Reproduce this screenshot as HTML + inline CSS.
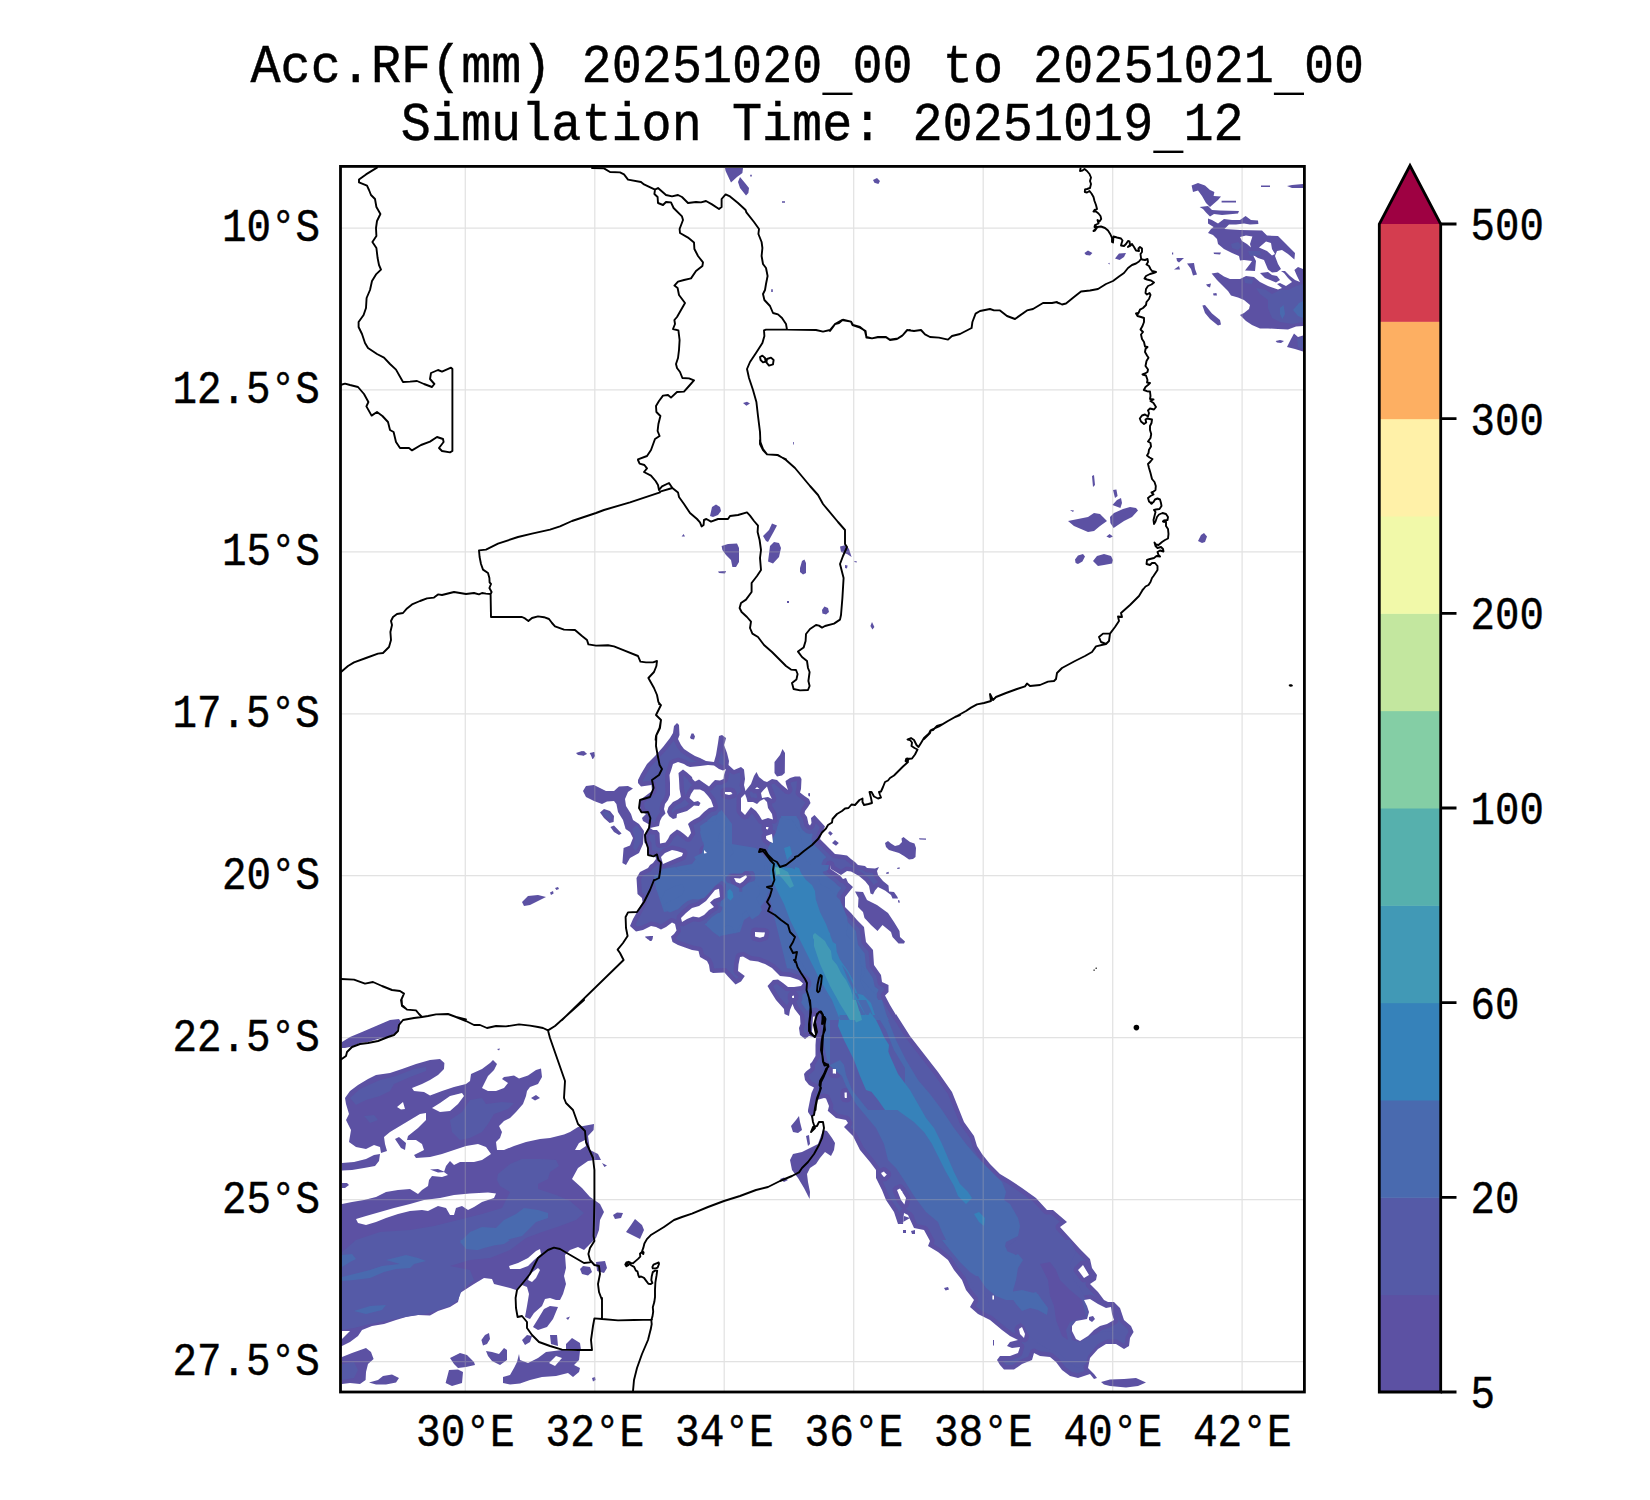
<!DOCTYPE html><html><head><meta charset="utf-8"><style>html,body{margin:0;padding:0;background:#fff}body{width:1650px;height:1500px;position:relative;overflow:hidden;font-family:"Liberation Mono",monospace}</style></head><body><svg width="1650" height="1500" viewBox="0 0 1650 1500" style="position:absolute;left:0;top:0">
<defs><clipPath id="ax"><rect x="340.5" y="166.4" width="963.9000000000001" height="1225.6"/></clipPath></defs>
<g clip-path="url(#ax)">
<path fill="#5c51a3" d="M630 926 L633 919 L637 912 L642.5 902 L642 898 L637.5 894 L636.5 878 L640 872 L648 868 L650 865 L650 865 L653 863 L656 859 L655 855 L650 855 L647.5 853 L647 844 L644.5 843 L644 835 L649 828 L650 825 L643 821 L642 818 L646 814 L641 811.5 L639.5 805 L640 800 L648 794 L652 791 L651.5 785 L641 786.5 L638 783 L638 780 L641 774 L647 764 L655 756 L663 747 L670 738 L673 733 L674 726 L677 723 L679 725 L679.5 735 L678 739 L681 745 L684 749 L690 753 L695 756 L700 758 L706 761 L714 762 L716 755 L718 743 L719 736 L722 735 L726 738 L725 742 L724 745 L727 753 L729 761 L728.5 765 L734 770 L741 767 L744 769.5 L745 779 L744 785 L745.5 791 L747 789 L751 784 L754 776 L756.5 772 L759 777 L764 781 L767 782 L772 779 L777 780 L782 785 L788 790 L786 784 L785.5 781 L790 778 L795 776.5 L795 776.5 L800 776.5 L801.5 779 L801 789 L800 792.5 L804.5 796 L809 799 L810.5 803 L808 807 L805 811 L804.5 813.5 L807 817 L808.5 824 L810 825.5 L811.5 823 L811 818 L814.5 815 L820 821 L825 826.5 L822 833 L820 839 L825 844 L830 849 L835 854 L840 854.5 L847 855.5 L851 859 L855 862 L858 865 L858 865 L865 866 L867 868 L875 868.5 L879 867 L877 871 L878 875 L883 881 L888.5 885.5 L889 891.5 L894 892 L897.5 897 L898 898.5 L892.5 898.5 L891 895 L885 890.5 L878 887 L875 890.5 L873 894.5 L870.5 893.5 L869 886 L865 881 L859 876 L851 871.5 L847 871 L841 875 L831 869 L830 865 L830.5 869 L840 875.5 L843 879 L846 878 L848 882.5 L853 887 L845 897 L845 907 L851 913 L857 920 L864 927 L865 935 L866 942 L873 950 L874 965 L881 975 L882 982 L888.5 985 L888.5 992 L885 995.5 L890 1005 L896 1015 L896 1014 L910 1036 L924 1054 L938 1072 L952 1092 L960 1112 L964 1122 L974 1136 L977 1146 L982 1154 L990 1164 L1000 1174 L1010 1180 L1022 1188 L1036 1198 L1047 1210 L1053 1210 L1060 1216 L1067 1222 L1060 1227 L1070 1238 L1080 1249 L1090 1259 L1092 1268 L1097 1275 L1096 1280 L1090 1284 L1098 1292 L1104 1300 L1108 1302 L1114 1302 L1120 1308 L1124 1320 L1131 1326 L1133.6 1332 L1130 1338 L1129 1346 L1124 1349 L1116 1344 L1106 1344 L1098 1349 L1090 1358 L1088 1368 L1094 1374 L1097 1378 L1094 1379 L1090 1374 L1084 1376 L1078 1378 L1070 1376 L1062 1370 L1056 1362 L1050 1357 L1040 1356 L1034 1353 L1032 1360 L1022 1364 L1014 1369.6 L1004 1369.6 L1000 1365 L997 1360 L1000 1356 L1010 1356 L1018 1353 L1020 1347 L1012 1348 L1007 1346 L1010 1342 L1018 1340 L1010 1336 L1002 1330 L990 1320 L978 1314 L970 1307 L974 1300 L966 1290 L962 1280 L954 1270 L948 1260 L938 1252 L928 1246 L930 1241 L924 1230 L914 1228 L908 1215 L904 1213 L903 1222 L898 1225 L910 1218 L904 1216 L903 1224 L898 1224 L894 1212 L886 1200 L882 1190 L876 1178 L876 1170 L870 1162 L860 1150 L853 1136 L844 1127 L848 1123 L846 1120 L836 1118 L828 1111 L824 1098 L817 1100 L815 1114 L812 1118 L808 1112 L808 1110 L809 1105 L810 1100 L811.5 1093 L814 1087.5 L809 1085 L805 1080 L804 1074 L806 1071.5 L810.5 1068 L810 1064 L812 1062 L815.5 1056 L815.5 1045 L816 1038 L813 1037 L809 1036 L805 1039 L800 1035 L799 1028 L800.5 1024 L800 1016 L794.5 1009 L792.5 1004 L790 1010 L789 1016 L784.5 1014 L784 1009 L776 1000 L771 992 L767.5 986 L773 980 L778 979.5 L783 983 L788 987 L794 987 L801 986 L803 983.5 L799 980 L790 977 L780 976 L772 968 L765 964 L758 961.5 L750 960.5 L743 956.5 L740 957 L738.5 964.5 L738 971 L744.8 976 L741 981.5 L735.5 984.5 L728 976.5 L724.5 972.5 L713 973 L710 971.5 L709 965 L707 961 L700 957 L698.5 951 L692 950 L685 947.5 L678 945 L672.5 942 L671 936.5 L674 934 L676.5 930.5 L675 924 L672 922.5 L666 927 L661 929.5 L656 927 L651 926 L643 930 L636 931.5 L630 926Z M345 1098 L350 1091 L358 1085 L368 1079 L376 1075 L390 1073 L402 1069 L416 1064 L430 1060 L440 1059 L444.4 1063 L444 1069 L438 1075 L430 1080 L422 1084 L412 1088 L414 1091 L424 1092 L430 1095.6 L442 1091 L454 1087 L466 1084 L470 1081 L471 1074 L482 1069 L490 1063 L493 1060 L497 1064 L494 1070 L488 1076 L484 1084 L482 1088 L488 1091 L496 1091 L504 1088 L508 1083 L502 1079 L504 1077 L514 1075.6 L519 1078.4 L528 1075.6 L536 1070 L541 1068.4 L542 1077 L538 1084 L530 1087 L527 1091 L526 1096 L523 1104 L516 1112 L510 1118 L504 1121 L499 1126 L502 1132 L500 1138 L496 1142 L497 1150 L504 1150 L514 1146 L526 1142 L540 1139 L550 1138 L564 1134.4 L570 1132 L578 1127 L594 1124 L593.6 1130 L588 1136 L590 1150 L598 1154 L601 1160 L594 1160 L588 1161 L578 1168 L572 1179 L582 1188 L590 1197 L594.4 1200 L600 1204 L604 1212 L600 1220 L599 1230 L596 1238 L590 1244 L584 1250 L578 1247 L570 1250 L565 1255 L566 1268 L564 1276 L566 1284 L563 1294 L560 1300 L556 1300 L550 1298 L545 1299 L542 1306 L534 1313 L530 1319 L525 1317 L527 1306 L529 1294 L527 1287 L522 1285 L516 1290 L510 1288 L502 1286 L494 1284 L492 1279 L484 1278 L474 1284 L460 1293 L458 1302 L450 1307 L438 1311 L430 1315.6 L418 1315 L406 1317 L396 1320 L384 1324 L372 1326 L362 1330 L358 1336 L350 1342 L342 1346 L341 1346 L341 1204 L342 1204 L352 1202 L364 1200 L376 1197 L386 1192 L398 1190 L410 1189 L418 1194 L422 1190 L428 1186 L429 1180 L432 1176 L442 1177 L448 1175 L444 1172 L446 1166 L450 1161 L454 1165 L460 1162 L474 1162 L482 1160 L491 1154 L486 1147 L478 1144 L466 1146 L454 1150 L442 1154 L430 1157 L416 1158 L414 1155 L424 1150 L422 1144 L416 1140 L407 1140 L408 1136 L418 1128 L426 1120 L426 1113 L420 1114 L410 1120 L400 1126 L390 1132 L384 1137 L385 1144 L387 1151 L381 1153 L380 1147 L374 1145 L366 1149 L356 1147 L349 1142 L351 1130 L346 1120 L349 1114 L346 1104Z M725 168 L743 168 L742.4 173 L737 177 L731 182.4 L728.4 177 L725.6 171Z M740 177 L745 183 L749 188 L748.4 193 L746 195.6 L740 188 L738 182Z M750.2 174.8 L751.8 174.8 L751.8 176.4 L750.2 176.4Z M782 201.2 L785 201.2 L785 202.8 L782 202.8Z M873 180 L877 178 L880 181 L878.4 184 L874.4 182.8Z M771.2 289.2 L772.8 289.2 L772.8 292 L771.2 292Z M743 403 L747 401.8 L750 403.6 L746.4 405.8Z M793.2 442 L794 442 L794 444.6 L793.2 444.6Z M1084.4 253 L1088 250.4 L1092.4 253 L1090 255.6 L1086 255Z M1115 258.4 L1119 253.4 L1126 253 L1124 257 L1119.6 260Z M1108 263.6 L1109.6 262.8 L1109.6 264.4Z M1191.6 185.6 L1198 183 L1205 185.6 L1210 190 L1214.4 192 L1213.6 196 L1221 196.4 L1218 200 L1210 207 L1206 203 L1202 196 L1198 190.4 L1193 192Z M1221.6 200.8 L1236 200.8 L1236 202.6 L1221.6 202.6Z M1199.6 207 L1208 206 L1212 210 L1220 210.4 L1239 211 L1238 213.6 L1222 215 L1214 214 L1210 216.4 L1206 212.4 L1203 209Z M1208 218.4 L1212 220 L1218 223.6 L1224 219 L1232 220 L1240 220 L1245.6 216 L1251 220 L1258 220.4 L1258.4 224 L1250 224.4 L1244 223.6 L1236 224.4 L1229 224.4 L1224.4 229 L1240 230 L1262 230.4 L1267 235.6 L1278 236 L1286 244 L1295 253 L1294.4 259.6 L1288 254 L1282 250 L1277 251 L1275 256 L1278 264 L1281 269 L1277 272 L1272 272.4 L1268 269.6 L1264 260 L1258 258 L1253 255 L1256 261 L1255 271 L1245 270.4 L1250 264 L1252 261 L1244 260 L1240 260.4 L1239 256 L1232 253 L1224 249 L1218 244 L1217 239 L1213 235 L1208 233 L1211 229 L1213.6 227 L1208 223.6Z M1211.6 273.6 L1218 272.4 L1224 276.4 L1230 279 L1240 279 L1246 276 L1254 277 L1260 282 L1268 286 L1278 289.6 L1282 288 L1277 284 L1280 283 L1286 286 L1292 282 L1288 278 L1284 273 L1281 271 L1285 271 L1290 276 L1295 280 L1300 282 L1297 276 L1294.4 270 L1298 267 L1303 269 L1303 326 L1296 326.4 L1288 329.6 L1278 329 L1268 328.4 L1260 328.4 L1252 325 L1246 321 L1240 315 L1244 313 L1249 309 L1250 305 L1244 300 L1238 297.6 L1231 295.6 L1228 291 L1222 285 L1217 280Z M1260 273 L1268 272 L1272 275 L1277 276 L1280 280 L1276 282.4 L1270 280 L1265 278Z M1176.4 258 L1184 258 L1179 262.4 L1177 261Z M1174 269.6 L1179 266 L1180 269.6Z M1187 263.4 L1194 263 L1195 269 L1197 274.4 L1193 275.6 L1191 269Z M1172 252.4 L1173.2 252.4 L1173.2 254.4 L1172 254.4Z M1213.6 252.4 L1221 252.4 L1220 254.4 L1214 254Z M1206 284.4 L1211 283.6 L1210 287.6 L1207.6 286.4Z M1213 293.6 L1216.4 293 L1217 295.6 L1213.6 295.6Z M1202.4 305.6 L1205 305 L1212 313.6 L1220 320 L1221 324.4 L1218 325.6 L1210 319 L1205 313Z M1275.6 341 L1280 340 L1284 341 L1281 343 L1277 342.4Z M1287 347 L1291 339 L1294 333.6 L1298 337 L1303 335.6 L1303 351.6 L1295 349Z M1261 185.6 L1270 185.6 L1270 187 L1261 187Z M1287 186 L1292 185 L1303 184 L1303 188 L1292 188Z M710 516 L712 507 L716 504.4 L720 507 L721 511 L718 515 L713 517Z M681.6 536.4 L683.6 534 L685 536.4Z M721.6 546 L728 544 L737 543.6 L739 548 L739 562 L736 567 L732.4 567 L731 560 L726 555 L722.4 550Z M718 571.6 L726 571 L725 573.6 L719 573Z M763 536 L769 530 L772 523.6 L777 525.6 L773 533 L768 542 L766 541Z M770 546 L774 542 L779 543 L781 548 L779 557 L773 563.6 L768 561.6 L769 554Z M800 568 L802 561 L804.4 559.6 L806 563 L806 573 L803 574.4 L800 572Z M840 546.4 L846 545 L849 549 L851.6 557 L847 554 L841 552Z M845 565 L847.6 565.6 L847 568.4 L845 568Z M854.4 561 L857 561.6 L856.6 562.6 L854.4 562Z M787 601 L789 601 L789 603 L787 603Z M822 610 L824.4 606.4 L828 608 L829 612 L826 614.4 L822.4 613.6Z M870.4 626 L872 622 L874.4 627 L872.4 629.6Z M1092 476 L1094 475 L1095 485 L1093 487Z M1113 490 L1116.4 489.6 L1117.6 496 L1115 498Z M1112.4 505 L1117 500 L1121 498 L1122 503 L1120.4 508Z M1070 510 L1074 510.4 L1073 512Z M1068 521 L1078 519 L1088 517 L1094 513 L1100 514 L1107 521 L1100 526 L1094 531 L1088 532 L1081 529 L1074 526Z M1110 517 L1114 513 L1123 509 L1130 507 L1136 508 L1138 510.4 L1132 517 L1124 521 L1118 525 L1113.6 528 L1110.4 523Z M1106.4 536.4 L1109.6 534 L1113 536.4 L1109.6 538Z M1075 559.6 L1078 555.6 L1083 554 L1085 556.4 L1082.4 561.6 L1078 564 L1075.6 563Z M1093 561 L1097 556 L1104 554 L1111 556 L1113 560 L1112 563.6 L1104 565 L1098 566Z M1198 541 L1201 535 L1204 533 L1207 536.4 L1205 542 L1202 543Z M576 753 L582 751 L587 753.6 L582.4 755.6 L578 755Z M589.6 753 L594.4 752 L595 756 L593 759Z M583 791 L586 786 L594 785 L600 788 L606 791 L614 791 L619 786.4 L628 786 L633 788.4 L628 792 L625 799 L626 806 L631 814 L633 820 L639 824 L644 831 L643 844 L639 853 L630 858 L626 865 L622.4 863 L623.6 848 L630 845.6 L633 838 L630 832 L625.6 829 L623 820 L618 812 L616.4 804 L614 801 L607 801.6 L602 804 L594 801 L586 797Z M600 812.4 L604 809 L610 811 L614 816 L613.6 822 L609.6 823 L604 818Z M610.4 827 L614 825.6 L621.6 833.6 L619 835 L614 832Z M522 902 L528 896 L538 895 L546 897 L538 901 L530 905 L524 906Z M550 892.4 L553 891 L553.6 893.6 L551 895Z M555 888 L558 887 L559 889 L556.4 890Z M645 936.4 L653 936 L651.6 941 L648 939.6Z M580 752 L584 751 L587 754 L583 756Z M590 753 L594 752 L594.4 757 L592.4 759Z M645 937 L653 936 L651.6 941 L648 939.6Z M678.5 818 L682 815.5 L684.5 818 L682 819.5Z M774.5 762 L780 755 L782.5 749 L785 753 L784.8 773 L782 775.5 L777 776.5 L774.5 773Z M690 737.5 L691.5 733.5 L693.5 733.5 L695 736.5 L694 739.5 L691 739Z M808 793.5 L810 793 L810 796.5 L808.5 796Z M828 833 L830 831 L832.8 833.5 L830.5 835.8Z M832 843 L835 840 L838.8 843 L836 845.8Z M885 843 L888 841 L891 843.5 L895 846 L899 845 L902 842 L901.5 838.5 L903.5 837 L906 839 L910 842 L914.5 843.5 L916 848 L915.5 857 L913 859 L909 859.5 L904 856 L899 853 L894 851.5 L889 850 L886 847Z M919 838.2 L926 838.5 L926 839.8 L919.5 839.5Z M645 936.5 L653 936.2 L652.5 939.5 L650 941Z M855 891.5 L863 892 L867 900 L877 905 L888 913 L894 922 L899.5 931 L900 937 L905 941.5 L904 943.5 L898.5 943.5 L892.5 937 L891 932 L882.5 925 L877.5 931 L871 925 L864.5 918 L863 912 L858 907 L858.5 898Z M897 868 L899.5 867.2 L899.8 868.8 L897.5 869Z M886 872.8 L888.5 871.8 L889 873.5 L886.5 874Z M898 900 L899.5 900.5 L899.8 902.8 L898.2 902.5Z M342 1042 L350 1037 L362 1032 L376 1026 L390 1020 L399 1019 L401 1022 L398 1028 L396 1033 L388 1037 L378 1039 L368 1042 L360 1043 L352 1046.4 L345 1048 L342 1048Z M531 1098 L536 1095 L540 1098 L535 1100.6Z M342 1163 L354 1162 L366 1159 L374 1155 L380 1154 L379 1161 L375 1166 L364 1168 L352 1170 L342 1170.4Z M342 1183 L347 1183 L349 1185 L345 1188 L342 1188Z M613 1215 L617 1212.4 L623 1213 L621 1218 L615 1219Z M626 1232 L631 1225 L635 1219 L642 1225 L644 1230 L640 1239 L632 1235Z M580 1269 L583 1266 L590 1267 L592 1272 L588 1275.6 L582 1274Z M596 1262 L605 1261 L607 1268 L604 1273 L597 1271Z M497 1049 L500 1048.6 L499 1050.6Z M602 1163 L607 1165.6 L604.4 1167Z M791 1126 L796 1120 L799 1116 L800 1122 L802 1130 L798 1133 L793 1132Z M806 1136 L809 1135 L810 1144 L808 1146Z M790 1160 L793 1154 L802 1152 L810 1148 L818 1144 L823 1130 L827 1131 L832 1138 L835 1143 L834 1150 L831 1156 L825 1152 L820 1158 L816 1164 L810 1168 L807 1174 L808 1182 L810 1192 L809.6 1199 L804 1188 L798 1178 L792 1170Z M780 1179 L784 1177.6 L788 1180 L784 1182Z M903 1230 L906 1230 L906 1233 L903 1233Z M944 1288 L948 1287 L949 1289.6 L945.6 1290.4Z M911 1231 L915 1230 L915 1234 L912 1234Z M1101 1382 L1110 1379.6 L1124 1379 L1136 1378 L1146 1382.4 L1138 1386 L1126 1387.6 L1110 1386 L1104 1384.4Z M993 1340 L994 1340 L994 1345.6 L993 1345.6Z M533 1327 L538 1319 L544 1309 L550 1306 L558 1307 L553 1319 L547 1327 L538 1330Z M566 1318 L570 1316.6 L568 1320Z M522 1340 L527 1335 L532 1336 L530 1342 L525 1345Z M550 1335 L557 1335 L558 1346 L551 1344Z M566 1344 L572 1338 L580 1343 L581 1350 L566 1349.6Z M481.4 1340 L485 1335 L489 1333 L490 1339 L487 1344 L483 1345.6Z M486 1351 L492 1352 L499 1354 L504 1348 L507 1350 L507 1360 L500 1365 L492 1361 L488 1356Z M503 1377 L510 1375 L514 1368 L517 1362 L519 1354 L520 1360 L528 1363 L538 1358 L546 1352 L554 1351 L562 1350 L580 1351 L579 1360 L574 1365 L580 1368 L579 1372 L573 1377 L568 1373 L556 1376 L542 1377 L530 1380 L520 1383.6 L510 1384.4 L503 1383Z M450 1358 L460 1353 L467 1355 L474 1362 L475 1365 L466 1367 L458 1368 L454 1364Z M449 1370 L458 1369.6 L463 1372 L462 1383 L452 1386 L445.6 1383Z M369 1382.4 L378 1380 L383 1376 L392 1374.4 L399 1378 L396 1382.4 L386 1384.4 L376 1384.4Z M342 1357 L352 1353 L366 1348 L371 1352 L373.6 1359 L368 1364 L366 1372 L365.6 1380 L360 1384 L350 1383 L342 1384Z M592 1378 L595 1377 L595.6 1380 L593 1381.6Z"/>
<path fill="#555aa7" fill-rule="evenodd" d="M647.8 818.6 L653.8 822.6 L655.2 822.2 L655.8 819.4 L658 815 L660.4 812.3 L659.5 809 L660.7 802.7 L664 797.8 L665.5 794.1 L665 774.4 L669.5 761.1 L671.3 759.8 L678.1 757.5 L685.8 759.9 L690.5 762.4 L697.3 761.8 L692.7 759.9 L681.1 752.4 L677.2 747.4 L673.8 740.5 L666.4 750 L650.6 766.8 L642.5 781.1 L642.8 781.7 L652.6 780.6 L654.8 781.9 L655.9 784.2 L656.5 791.1 L655.9 793.2 L644.3 802.4 L644.1 804.7 L644.9 808.4 L648.8 810.5 L650.4 813.1 L650 816.1 L647.8 818.6Z M718.4 763.1 L722.7 765.6 L724 765 L724.4 761.3 L721.3 750.6 L718.4 763.1Z M729.7 772.2 L727.8 780.4 L726.7 782.2 L720.9 784.9 L716.7 784.7 L712.1 789.7 L709.5 791 L715.1 798.1 L717.9 805.9 L717.7 808.6 L715.7 810.9 L711 812.2 L701.4 820.8 L693.3 825.2 L695.4 833.8 L690.8 841 L688.4 842 L686.2 841.6 L677.5 834.8 L673.6 837.9 L671.9 841.3 L668.3 846.1 L666.3 846.9 L659.5 848 L657.4 847.2 L655.8 845 L654.9 834.5 L652.1 834.4 L650.5 833.7 L648.6 836.3 L648.8 839.9 L650.4 841 L651.4 842.9 L651.9 850.5 L656.3 850.7 L658.9 852.7 L662.8 849.1 L670.7 845.7 L672.4 845.5 L678.4 846.7 L685.2 849.1 L687 851 L687.5 853.6 L685.9 858.2 L684.1 860 L663.5 868.5 L661.3 868.2 L659.8 867.2 L658.2 863.6 L655.9 866.4 L653.2 868.2 L650.8 871.5 L643.2 875.4 L641.1 879.1 L641.9 891.9 L646.1 896.1 L646.9 902.8 L635.4 924.8 L637.3 926.6 L641.5 925.7 L651 921.5 L657.3 922.7 L661 924.5 L670.9 918.1 L673.2 918.2 L676.8 919.9 L676.5 917.7 L677.2 915.5 L682.8 909.8 L689.5 904.3 L697 901.9 L702.9 897.7 L712.1 886.5 L718.6 884.3 L720.7 884.6 L722.1 885.6 L723.4 887.8 L724.4 897.8 L722.6 900.7 L716.4 902.9 L718.5 906.4 L718.4 908.1 L717.3 910 L711.8 913.6 L706.4 918.8 L700.6 921.7 L698.7 922 L693.5 921.2 L683.5 926.2 L680.1 926.1 L680.9 931.6 L676.1 938.1 L676.3 939 L679.8 940.9 L693.1 945.6 L700.8 947.1 L702.6 949.1 L703.9 954 L710.8 958.6 L713.2 963.4 L714.1 968.4 L724.3 968 L726.5 968.5 L736.4 978.9 L738.6 977 L734.7 974 L733.5 971.1 L734.1 963.6 L735.6 956.1 L736.3 954.5 L738 953 L743.1 952 L744.8 952.4 L751.5 956.1 L759 957.1 L766.9 959.9 L774.9 964.5 L782 971.7 L790.9 972.6 L800.4 975.7 L806.3 980.4 L807.3 982.3 L807.4 984.4 L804.2 989.1 L802.1 990.4 L795.6 991.3 L797.7 992.9 L798.5 995 L798.3 999.3 L796.4 1001.8 L798.4 1006.7 L804.3 1014.8 L805 1024.2 L803.6 1028.5 L804.2 1032.6 L805.1 1033.3 L807.5 1031.8 L808.5 1016.7 L809.5 1014.2 L812.4 1012 L814.9 1011.5 L817.3 1012.5 L818.9 1015 L821.5 1030.9 L819.9 1035.8 L820.5 1037.9 L819.9 1056.9 L814.7 1065.6 L815 1068.3 L814.4 1070.3 L808.8 1075.2 L809.2 1078.1 L811.9 1081.4 L816.7 1083.9 L818.2 1086 L818.4 1088.5 L815.5 1095.8 L823.7 1093.5 L827.5 1094.3 L829.3 1095.4 L833.3 1104.8 L832.8 1109.2 L838.1 1113.8 L847.3 1115.7 L849.5 1117.1 L852.5 1122.6 L852 1125.1 L850.4 1127 L856.8 1133.6 L863.8 1147.5 L873.6 1159.3 L880.2 1168.4 L883.4 1167.1 L885.6 1167.4 L890.4 1171.6 L891.3 1174.6 L890.4 1177.1 L886.7 1180.9 L884.6 1181.5 L882.6 1181.2 L890 1197.9 L898 1209.8 L899.4 1213.9 L900.3 1210.5 L902.9 1208.6 L901.1 1207.5 L897 1202 L892.7 1191.2 L892.6 1189 L894.3 1186.4 L899.8 1184.1 L902.6 1184.9 L905.5 1188.2 L910 1196 L910.5 1198.2 L908.5 1206.3 L907.1 1208 L905.5 1208.8 L911.6 1212.4 L914 1216 L914.5 1218.3 L917.1 1224 L925.3 1225.7 L927.5 1227.1 L934.3 1239.7 L934.4 1241.8 L933.6 1244.1 L940.8 1248.5 L951.6 1257.4 L957.7 1267.4 L965.8 1277.5 L969.9 1287.7 L978 1297.9 L978.3 1301.4 L975.7 1306 L980.5 1310.2 L992.5 1316.2 L1004.8 1326.5 L1012.4 1332.2 L1015.3 1333.6 L1014.5 1328.6 L1016.1 1325.5 L1021.5 1322.5 L1023.7 1322.8 L1025.7 1324.5 L1029.3 1332.6 L1029.4 1334.7 L1028.2 1339.5 L1027.1 1341.3 L1024.8 1342.4 L1022 1342 L1021.5 1342.8 L1023.6 1344.3 L1024.5 1346.7 L1021.9 1355.2 L1020 1357 L1011.2 1360.3 L1002.5 1360.5 L1003.7 1362.3 L1006.1 1365.1 L1012.6 1365.1 L1019.9 1360 L1028.3 1356.6 L1030.5 1350.2 L1032.2 1348.9 L1034.3 1348.5 L1041.3 1351.6 L1050.4 1352.5 L1052.5 1353.3 L1059.3 1358.9 L1065.2 1366.8 L1072 1371.9 L1077.8 1373.3 L1084.7 1371 L1083.5 1367.6 L1085.9 1356.2 L1094.9 1345.7 L1103.6 1340.2 L1105.6 1339.5 L1116.8 1339.6 L1124 1343.7 L1124.8 1343.3 L1125.7 1336.5 L1128.6 1331.7 L1127.3 1328.7 L1120.1 1322.2 L1116 1310.4 L1118.5 1319.9 L1118 1322 L1116.6 1323.7 L1108.7 1328.1 L1101.9 1330.1 L1096.9 1333.5 L1090.8 1339.5 L1081.6 1345.2 L1078 1345 L1073.6 1342.8 L1072 1341 L1067.7 1332.2 L1067.6 1325.1 L1068.5 1323.2 L1073.5 1317.3 L1083.4 1315.1 L1084.3 1312.1 L1079.7 1301.2 L1080.1 1297.8 L1082.8 1295.7 L1090.2 1294.5 L1092 1295 L1096.9 1298 L1086.3 1286.5 L1085.5 1284.4 L1085.9 1282.1 L1083.4 1282.5 L1081 1281.3 L1073.7 1271.2 L1073.5 1269.5 L1074.3 1267.5 L1080.2 1261.5 L1082.6 1260.5 L1085.9 1261.3 L1076.7 1252 L1056.1 1229.3 L1055.5 1227.2 L1056 1225 L1059.7 1221.7 L1051.3 1214.5 L1046.5 1214.5 L1044.4 1213.7 L1033 1201.4 L1007.6 1183.8 L997.2 1177.5 L986.8 1167.2 L978.2 1156.4 L972.8 1147.7 L969.9 1138 L960.1 1124.2 L948 1094.2 L934.4 1074.7 L906.2 1038.4 L893.8 1018.9 L892.1 1017.3 L881 997.6 L880.7 994.2 L884 990.1 L884 987.9 L878.4 984.7 L877.6 983.1 L876.7 976.7 L869.9 966.9 L868.6 951.8 L861.7 943.5 L859.7 929.1 L841.8 910.2 L840.7 908.3 L840.7 895.7 L846.8 887.5 L844.7 885.5 L843.5 883.5 L840.6 882.8 L837 878.9 L827.3 872.2 L826.1 870 L825.6 864.2 L827.4 861.3 L830.7 860.6 L833.6 862.3 L834.9 866.1 L840.9 869.7 L846.2 866.6 L852.8 867.4 L861.6 872.3 L867.9 877.5 L872.8 883.5 L873.5 885.4 L875.9 883 L878.4 882.5 L874.1 877.2 L872.8 872.9 L865.8 872.3 L862.9 870.2 L856.2 869.1 L845 859.8 L832.9 858 L816.5 841.8 L815.6 839.8 L815.6 838 L819.7 827.3 L816 823.3 L813.6 828.2 L811 829.9 L807.9 829.5 L804.5 826.2 L802.8 818.9 L800.6 815.7 L800 813.5 L801 809 L805.5 802.5 L797.2 796.1 L795.9 794.3 L795.5 792.1 L796.5 788.3 L796.9 781 L791.9 782.1 L790.4 783.1 L792.4 789 L792.4 790.8 L790.9 793.4 L788.5 794.5 L785.1 793.5 L774.8 784.1 L772.8 783.8 L771.1 784.8 L776.5 798.7 L775.3 802 L773.9 803.1 L771.8 803.5 L772.3 806.3 L776.3 812.7 L777.4 820.4 L776.5 822.4 L775.1 823.5 L771.7 823.8 L772.9 826.1 L772.6 829.5 L774.8 830.5 L776.3 832.6 L777.5 843.4 L776.2 846.2 L773.9 847.4 L771.6 847.3 L766.8 845.1 L763.2 842.3 L761.8 840.1 L761.5 835.4 L763.2 832.5 L761.5 829.4 L761.6 826.1 L762.3 824.5 L760.4 824.2 L758.7 823 L752.7 814.2 L751.8 813.4 L748 818.4 L744.6 819.5 L742.2 818.5 L737 813.1 L736.5 811 L736.6 797.1 L737.5 795.1 L741 791.6 L739.5 785.2 L740.5 778.9 L739.8 772.4 L733.7 774.5 L731.7 773.8 L729.7 772.2Z M987.9 1295.6 L988.7 1293.1 L990.7 1291.4 L994.4 1291.1 L996.5 1291.9 L997.7 1293.1 L998.5 1295.2 L998.5 1300 L997.7 1302.1 L994.9 1304 L992 1304.1 L989.9 1303.3 L988.1 1300.9 L987.9 1295.6Z M840.4 1099.3 L840.4 1090.9 L842.1 1088.9 L844.6 1088.1 L848.9 1088.6 L850.5 1090.1 L851.2 1091.7 L851.5 1097.8 L850.8 1100.1 L849.7 1101.5 L847.7 1102.4 L843 1102 L840.4 1099.3Z M832.8 1078.1 L830.3 1077.3 L828.6 1075.3 L828.5 1067.7 L829.6 1065.8 L831.5 1064.7 L837.3 1064.7 L839.2 1065.8 L840.3 1067.7 L840.3 1075.3 L839.2 1077.2 L837.7 1078.2 L832.8 1078.1Z M765.2 928 L768 929.2 L769.5 931.8 L768.2 938 L767 939.9 L759.7 942.3 L753.4 940.7 L751.6 939.4 L750.5 937 L750.5 932 L751 929.9 L752.1 928.6 L754.8 927.5 L765.2 928Z M751 875 L751.5 877.6 L750.6 879.6 L745.8 885 L740.9 887.9 L738.8 887.8 L733.3 885.6 L732 884 L729.6 878.8 L729.9 876.2 L731.9 874 L733.9 873.5 L739 873.9 L745.4 870.5 L748.6 871.4 L751 875Z M731 787.5 L734 788.6 L736.6 792 L737 794.6 L735.9 796.9 L734.1 798.2 L729.3 799.5 L723.9 798.4 L722 797.4 L720.5 794 L720.7 790.7 L721.8 788.8 L724.6 787.5 L731 787.5Z M705.7 845.8 L711.2 851.3 L711.5 853.5 L710.9 855.2 L709.4 856.8 L703.4 858 L701.8 857.4 L700.2 856 L699.5 853.9 L699.5 849.6 L700.3 847.5 L701.5 846.3 L703.6 845.5 L705.7 845.8Z M692.5 785.3 L689 781.9 L688 779.4 L683.2 775.3 L684 788.5 L685.4 796.1 L687.3 791.5 L690.5 786.6 L692.5 785.3Z M685.1 798.9 L680.5 803.3 L675.8 805.6 L672.5 809.3 L671.8 811.6 L672.5 813 L674.9 810 L684.9 806.9 L689.1 803.7 L686.2 801 L685.1 798.9Z M791.4 991.5 L785.9 991 L776.8 984.1 L775.2 984.3 L773.1 986.6 L779.6 997.3 L787 1005.6 L789 1001.2 L787.8 998.9 L787.7 994.8 L789 992.6 L791.4 991.5Z M756.5 793.5 L753.3 793.2 L751 791.1 L749.5 793.2 L751 797.5 L753.8 797.6 L756.1 798.5 L757.3 797.4 L756.5 793.5Z"/>
<path fill="#555aa7" d="M498 1174 L510 1164 L522 1159 L540 1159 L556 1160 L559 1166 L550 1172 L548 1179 L538 1184 L538 1189 L556 1195 L570 1201 L584 1213 L576 1220 L560 1226 L542 1232 L526 1238 L510 1250 L490 1258 L470 1260 L450 1266 L470 1270 L474 1280 L462 1290 L458 1300 L450 1306 L438 1310 L426 1314 L410 1316 L390 1320 L370 1324 L354 1328 L342 1330 L342 1252 L356 1240 L380 1232 L410 1230 L434 1226 L458 1220 L482 1214 L502 1208 L506 1200 L510 1192 L500 1186 L497 1180Z M1256 288 L1266 290 L1272 294 L1280 290 L1288 290 L1296 286 L1303 284 L1303 322 L1292 324 L1280 322 L1272 318 L1268 308 L1268 300 L1260 294Z M1244 278 L1253 280 L1252 284 L1245 283Z M1231 244 L1238 242 L1242 246 L1238 250 L1232 248Z M1248 251 L1260 251 L1261 255 L1250 256Z M1297 339 L1303 337.6 L1303 349 L1298 347Z M632 829 L637 825 L642 832 L641 842 L636 851 L633 848 L635 838Z M602.4 813 L606 811 L611 815 L611 820 L607 818Z M350 1098 L360 1089 L380 1080 L396 1076 L414 1069 L426 1067 L426 1071 L410 1077 L394 1084 L390 1091 L380 1096 L366 1100 L356 1105Z M450 1120 L462 1112 L470 1100 L482 1098 L486 1104 L502 1102 L514 1103 L508 1109 L494 1114 L488 1124 L482 1132 L470 1138 L460 1140 L452 1132Z M364 1116 L374 1115 L378 1120 L370 1123Z M1006 1248 L1016 1240 L1070 1240 L1076 1252 L1070 1264 L1074 1280 L1080 1288 L1086 1300 L1088 1316 L1076 1320 L1070 1328 L1072 1340 L1080 1342 L1090 1336 L1106 1331 L1116 1332 L1110 1338 L1098 1344 L1088 1356 L1086 1364 L1078 1368 L1068 1362 L1058 1352 L1046 1348 L1036 1342 L1028 1334 L1024 1326 L1018 1320 L1010 1328 L1002 1324 L990 1314 L988 1300 L982 1292 L974 1290 L970 1280 L960 1268 L950 1252 L942 1240Z M342 1364 L354 1362 L358 1370 L354 1378 L342 1380Z"/>
<path fill="#496aaf" fill-rule="evenodd" d="M680 907 L687.3 900.9 L695.3 898.2 L700.1 894.7 L708.4 884.6 L711 882.5 L719 880.3 L722.2 880.9 L724.9 882.7 L727.3 887 L728.4 898.5 L726.2 902.9 L722.3 905.2 L722.2 909.1 L720.8 912.1 L714.3 916.8 L709.3 921.6 L704.4 924.3 L720 936 L740 932 L744 920 L756 912 L766 900 L769.5 890.6 L770 900 L780 940 L787 968.2 L791.8 968.7 L801.7 971.9 L809.2 977.7 L811.4 981.9 L811.1 986 L807.1 991.9 L802.4 994.4 L802.3 999.7 L801.1 1002.6 L806.9 1011.1 L811.2 1008.2 L816.1 1007.6 L820.4 1009.9 L822.8 1014.1 L823.7 1020 L889.1 1020 L888.7 1019.4 L877.1 998.7 L876.7 993.8 L878.7 989.8 L874.7 986.4 L872.9 978.2 L866 967.8 L864.7 953.4 L858 944.8 L855.9 930.9 L837.1 910.3 L836.5 907 L836.7 895.4 L837.9 892.4 L841.4 887.9 L837.8 885.7 L834.3 881.9 L823.5 873.8 L822.2 870.8 L821.6 863.6 L823.3 859.8 L826.3 857.3 L812.5 843 L811.5 838.8 L812.6 834.5 L812 833.6 L809.3 834 L806.1 833 L802.5 830 L800.7 827.3 L799.1 820.5 L796.7 816.9 L796.5 816 L780.9 816 L781.5 819.6 L780.5 823.6 L777 827.1 L780.1 831.4 L781.5 843.7 L779 849 L776.2 850.9 L772.9 851.5 L768.9 850.1 L768 860 L756 848 L732 844 L732 824 L721.2 809.6 L720.2 812.2 L717 814.8 L712.8 815.9 L707.6 820.6 L700 832 L702.4 841.8 L703.2 841.5 L706.5 841.9 L709.4 843.4 L714.9 849.8 L715.4 853.9 L714 857.9 L711.5 860.2 L708.4 861.4 L702.9 861.9 L699.2 860.5 L696.9 858.1 L696.7 857.7 L692 864 L678 866.5 L665.6 872.1 L661.4 872.3 L661.3 872.3 L654 876 L656 888 L660 900 L664 912 L678 909.2 L680 907Z M755.4 878.1 L753.9 882 L748.3 888.1 L741.8 891.8 L737.8 891.7 L730.9 888.8 L728.8 886.5 L725.8 880.3 L725.9 875.4 L728.6 871.4 L732.3 869.7 L738 869.8 L744 866.7 L747.2 866.6 L750.3 867.7 L752.7 869.8 L754.6 873.2 L755.4 878.1Z"/>
<path fill="#5c51a3" d="M1040 1264 L1050 1262 L1056 1270 L1060 1280 L1070 1290 L1082 1300 L1086 1316 L1070 1322 L1066 1330 L1068 1340 L1062 1336 L1056 1320 L1054 1306 L1050 1296 L1048 1280Z"/>
<path fill="#496aaf" d="M1293 310 L1299 303 L1303 301 L1303 318 L1298 316Z M1280 308 L1283.6 305 L1285 314 L1282.4 319 L1280 314Z M795 865 L829 865 L828 870 L819 873 L814 879 L815 884 L824 886 L830 889 L835 895 L840 900 L843 907 L847 917 L848 925 L846 935 L851 939 L855 943 L856 951 L861 956 L859 963 L865 969 L864 975 L861 979 L867 985 L875 994 L880 1003 L883 1009 L885 1015 L840 1015 L835 1003 L828 999 L823 990 L818 975 L814 965 L809 955 L805 945 L805 929 L801 915 L795 905Z M700 826 L706 822 L715 821 L718 813 L720 811 L723 815 L726 821 L727 825 L720 833 L717 841 L724 843 L730 845 L734 852 L730 857 L730 865 L700 865 L694 857 L702 853 L704 845 L701 835Z M780 821 L784 818 L795 823 L795 865 L764 865 L764 859 L770 855 L778 845 L782 835 L779 827Z M780 818 L792 820 L800 832 L802 844 L806 860 L816 872 L824 892 L830 912 L840 932 L848 952 L820 952 L800 920 L784 900 L772 880 L766 864 L768 848 L776 832Z M655 881 L663 869 L675 867 L680 871 L694 869 L700 865 L765 865 L764 871 L756 875 L753 871 L745 871 L742 873.5 L730 873.5 L725 878 L720 882 L715 886 L710 892 L704 898 L698 899.5 L690 899 L684 903 L678 909 L670 912.5 L664 909 L663 905 L668 902 L675 899 L682 895 L684.5 889 L683 884 L674 886.5 L665 891 L661 900 L659 894 L656 889Z M726 882 L734 885 L739 888 L740 898 L743 896 L742 888 L748 883 L754 881 L759 887 L760 895 L756 898 L760 905 L762 910 L759 915 L752 919.5 L748 914 L746 910 L742 915 L743 921 L738 929 L735 934 L732 927 L728 925 L724 927 L720 937 L713 932 L707 926 L707 922 L712 917 L718 913 L726 913 L725 908 L720 906 L721 901 L725 898 L726 890Z M460 1242 L470 1232 L482 1227 L496 1228 L504 1220 L516 1214 L524 1208 L538 1210 L548 1213 L548 1218 L536 1222 L528 1230 L522 1236 L510 1239 L496 1245 L476 1250 L466 1249Z M386 1260 L406 1255 L418 1258 L426 1261 L414 1264 L410 1268 L396 1269 L384 1272 L370 1278 L354 1280 L342 1281 L342 1277 L354 1274 L370 1270 L382 1266 L400 1264Z M342 1255 L352 1254 L356 1259 L350 1262 L342 1267Z M830 1000 L882 1000 L888 1020 L896 1040 L906 1060 L918 1080 L930 1094 L942 1110 L954 1128 L966 1144 L978 1158 L990 1170 L1002 1182 L1006 1192 L1004 1200 L1010 1204 L1018 1218 L1020 1226 L1018 1236 L1006 1242 L1004 1250 L1014 1254 L1022 1260 L1018 1268 L1016 1280 L1010 1292 L1022 1290 L1038 1294 L1042 1300 L1006 1300 L996 1296 L986 1288 L978 1276 L968 1266 L958 1258 L950 1248 L942 1232 L938 1222 L926 1212 L914 1196 L904 1180 L896 1168 L888 1160 L884 1144 L876 1128 L866 1116 L856 1104 L846 1086 L842 1076 L830 1066Z M942 1240 L1002 1240 L1006 1248 L1010 1258 L1018 1254 L1023 1260 L1018 1268 L1016 1280 L1012 1294 L1006 1292 L998 1284 L988 1278 L982 1274 L976 1276 L970 1272 L960 1262 L950 1250Z M1012 1298 L1022 1291 L1030 1294 L1036 1292 L1042 1300 L1048 1308 L1047 1315 L1038 1310 L1030 1308 L1022 1311 L1016 1304Z M460 1240 L510 1240 L504 1244 L490 1246 L478 1250 L468 1249Z M354 1311 L370 1306 L386 1305 L382 1310 L366 1314Z M800 960 L806 970 L812 980 L816 992 L817 1002 L820 1010 L825 1012 L826 1020 L825 1030 L823 1040 L825 1050 L827 1060 L830 1065 L840 1060 L844 1065 L846 1075 L850 1085 L852 1090 L860 1100 L868 1110 L905 1110 L905 1068 L900 1060 L894 1050 L890 1040 L886 1030 L880 1020 L874 1010 L870 1000 L865 990 L860 980 L862 970 L860 960Z"/>
<path fill="#3682ba" d="M795 867 L799 868 L801 873 L806 880 L812 885 L815 891 L816 902 L818 911 L822 921 L824 927 L830 933 L831 941 L836 944 L837 955 L843 964 L848 971 L853 980 L855 993 L863 995 L871 1003 L875 1015 L840 1015 L835 1003 L829 992 L825 980 L821 970 L815 955 L809 941 L805 929 L802 918 L806 908 L801 900 L795 895Z M784 848 L790 846 L792 854 L787 860Z M772 860 L780 867 L792 868 L800 872 L808 886 L816 900 L820 912 L826 924 L832 940 L840 960 L848 980 L858 1000 L868 1020 L840 1020 L832 1000 L820 980 L810 960 L800 940 L790 920 L784 904 L776 888 L770 876Z M727.5 891 L730 889 L732.5 892 L733.5 897 L730.5 900.5 L727.5 898Z M838 1026 L844 1040 L854 1060 L860 1076 L866 1090 L878 1094 L890 1104 L900 1112 L914 1122 L924 1132 L932 1144 L938 1156 L946 1172 L954 1186 L958 1196 L966 1204 L972 1198 L968 1192 L960 1184 L954 1172 L948 1158 L942 1144 L934 1128 L926 1118 L918 1104 L910 1090 L898 1074 L890 1056 L884 1040 L876 1024 L870 1008 L866 1000 L842 1000Z M974 1214 L979 1212 L985 1218 L984 1226 L979 1222Z M819 960 L823 966 L828 975 L832 986 L838 994 L842 1003 L846 1012 L849 1020 L852 1030 L854 1040 L856 1050 L860 1060 L864 1070 L866 1080 L870 1090 L878 1100 L885 1110 L905 1110 L905 1094 L900 1085 L894 1075 L890 1065 L888 1055 L889 1045 L884 1037 L880 1028 L876 1020 L870 1012 L868 1016 L864 1013 L860 1006 L857 1001 L859 998 L856 990 L852 982 L848 973 L842 965 L838 960Z"/>
<path fill="#4199b6" d="M813 935 L815 933 L820 937 L825 941 L827 945 L831 951 L832 959 L837 965 L841 973 L847 982 L850 988 L852.5 995 L853 1005 L855 1015 L849 1015 L847 1007 L843 998 L841 993 L835 985 L830 978 L827 971 L824 960 L819 951 L817 944 L813 938Z M777 866 L788 872 L794 886 L790 888 L782 878 L776 872Z M814 934 L820 938 L830 960 L840 980 L848 996 L856 1008 L860 1020 L850 1020 L840 1004 L830 986 L820 964 L814 946Z M844 1000 L856 1000 L862 1020 L856 1022 L850 1012Z M824 960 L836 964 L840 972 L846 980 L851 990 L853 1000 L860 1012 L862 1020 L856 1022.5 L853 1016 L848 1008 L844 999 L840 992 L834 985 L830 976 L826 968Z"/>
<path fill="#56b0ad" d="M775 867 L779 868 L780 874 L776 875Z"/>
<path fill="#ffffff" d="M1240 237 L1246 235.6 L1252.4 236.4 L1250 244 L1251 247.6 L1247 244 L1242 241Z M1259 247.6 L1266 241.6 L1271 243 L1272 249 L1275 254 L1272 255.6 L1267 251Z M678 762 L684 764 L687 766 L690 767 L700 766 L708 765 L714 765.5 L719 769 L723 770.5 L726 769 L724 775 L723.5 779 L720 780.5 L715 780 L712 783 L709 786.5 L704 783 L699 779.5 L695 781.5 L692.5 779 L692 777 L687 772.5 L683 769.5 L678.5 773 L679 779 L679.5 789 L681 797 L678 799.5 L673 802 L668.5 807 L667 812 L669 816 L673 819 L676.5 818 L677 814 L682 812.5 L687 811 L691 808 L694 805.5 L699 806 L700.5 803 L698 801 L694 802 L689.5 798 L691 794 L694 789.5 L700 789.5 L704 791.5 L708 796 L711 800 L713.5 807 L709 808 L704 812 L699 817 L694 819.5 L690 822 L688 824 L690 829 L691 833 L688 837.5 L684 834 L680 831 L677 829.5 L673 832.5 L670 835 L668 839 L665.5 842.5 L660 843.5 L659.5 833 L657 830 L653 830 L650 828 L659 826 L660 821 L662 817 L665.5 813.5 L664 809 L665 804 L668 800 L670 795 L670 783 L669.5 775 L671.5 769 L673 764Z M725 792 L731 792 L732.5 794 L729 795 L725 794Z M741 798 L745 794 L746.5 798 L747.5 802 L753 802 L757 804 L760 801 L764 799 L767 802 L768 808 L772 814 L773 819.5 L768 818 L762 820 L759 815 L756 811 L751 807 L748 811 L745 815 L741 811Z M762 798 L761 793 L764.5 789 L767 786.5 L769.5 794 L772 799 L768 797Z M755 789 L757 787 L759.5 789Z M766 827 L768.5 827 L768 829.5 L766 829Z M766 836 L772 834 L773 843 L769.5 841.5 L766.2 839Z M661 857 L665 853 L672 850 L677 851 L683 853 L682 856 L677 858 L670 861 L663 864Z M704 850 L707 853 L704 853.5Z M734 878 L740 878.5 L746 875 L747 877 L743 881.5 L740 883.5 L736 882Z M681 918 L686 913 L692 908 L699 906 L706 901 L715 890 L719 888.8 L720 897 L714 899 L710 902.5 L714 907 L709 910 L704 915 L699 917.5 L693 916.5 L687 919 L682 922Z M755 932 L765 932.5 L764 936.5 L760 937.8 L755 936.5Z M397 1107 L403 1102 L405 1109 L401 1109.6Z M432 1108 L440 1103 L450 1096 L462 1093 L464 1096 L458 1104 L450 1111 L440 1112Z M356 1219 L366 1216 L380 1212 L394 1208 L410 1204 L424 1200 L440 1198 L454 1195 L470 1193.6 L488 1192.4 L496 1193.6 L494 1198 L482 1202 L474 1207 L468 1210 L462 1206 L456 1208 L454 1215 L450 1215 L446 1208 L438 1206 L428 1211 L422 1210 L410 1211 L398 1214 L386 1218 L376 1222 L366 1225 L358 1223Z M509 1266 L518 1263 L528 1258 L536 1251 L540 1249 L541 1254 L534 1260 L528 1266 L520 1269 L510 1269Z M575 1150 L579 1143 L585 1140 L586 1146 L580 1150Z M881 1173 L884 1171.6 L886 1174.4 L883.6 1176.8Z M899 1190 L902 1191 L905.6 1200 L903 1202 L900 1197Z M833.6 1069.6 L835.6 1069.6 L835.6 1073 L833.6 1073Z M845.2 1093.6 L846.8 1093.6 L846.8 1098 L845.2 1098Z M881.6 1174.4 L884 1172 L886.8 1174.4 L884.4 1177Z M897 1190 L900 1188.6 L906 1198 L904.4 1204.4 L901 1200Z M1078 1270 L1083 1265 L1089 1275 L1084 1278Z M832.8 1069 L835.6 1069 L835.6 1073.6 L832.8 1073.6Z M844.6 1092.6 L846.8 1092.6 L846.8 1097.6 L844.6 1097.6Z M1072 1326 L1076 1321 L1087 1319 L1089 1312 L1087 1306 L1084 1300 L1090 1299 L1098 1304 L1106 1308 L1111 1307 L1112 1314 L1114 1320 L1107 1324 L1100 1326 L1094 1330 L1088 1336 L1080 1341 L1076 1339 L1072 1331Z M1019 1329 L1022 1327 L1025 1334 L1024 1338 L1020 1334Z M992.4 1295.6 L994 1295.6 L994 1299.6 L992.4 1299.6Z M530 1274 L538 1268 L540 1270 L536 1278 L532 1282 L528 1280Z M342 1331 L350 1331 L342 1339Z M549 1363 L556 1356 L562 1358 L555 1366Z M813 1017 L814.5 1016 L815.5 1024 L817 1031 L815 1036 L812 1032 L812.5 1024Z M792 996 L794 995.5 L794 998 L792.2 998Z M833 1069 L836 1069 L836 1074 L834.5 1073Z M844.5 1093 L846 1093 L847 1097.5 L845 1098Z M824 1098 L826 1098.5 L829 1106 L828 1110 L825 1110 L823.5 1102Z"/>
<path fill="#5c51a3" d="M395 1139 L399 1137 L406 1143 L405 1150 L401 1148Z M430 1169.6 L438 1169 L445 1172 L438 1172.4Z M1089 1317 L1093 1316 L1095 1319 L1092 1322 L1089 1320Z"/>
<path d="M465.3 166.4V1392.0M594.8 166.4V1392.0M724.2 166.4V1392.0M853.7 166.4V1392.0M983.2 166.4V1392.0M1112.7 166.4V1392.0M1242.1 166.4V1392.0M340.5 228.0H1304.4M340.5 389.9H1304.4M340.5 551.9H1304.4M340.5 713.8H1304.4M340.5 875.7H1304.4M340.5 1037.7H1304.4M340.5 1199.6H1304.4M340.5 1361.5H1304.4" stroke="#b0b0b0" stroke-opacity="0.36" stroke-width="1.25" fill="none"/>
<path d="M377 167.6 L366 174.4 L359 179.6 L359 182.4 L367 185.6 L369 190 L371 195 L375 199 L376.4 207 L380.4 214 L377 221 L376 228 L376.4 236 L372.4 242 L376.4 248 L377.6 258 L379 265 L381 269.6 L376 274.4 L372 281 L370 290 L366.6 298 L366 308 L363.6 315 L358.6 322 L358.6 327 L362 334 L365 343 L368 348 L377 354 L384 357.6 L390 364 L396 369.6 L403 382 L410 381.6 L417 381 L424 384 L432 387 L434.4 384 L430 379 L431 373 L438 370 L442 371.6 L451 367.6 L452.4 369 L452.4 451 L450 452.4 L442 451 L439 448 L443.6 442 L443 439 L437 437 L430 441.6 L421 445 L412 450.4 L409 448 L400 448 L396 442 L393.6 432 L390 430 L388 422 L382.4 416 L377 412 L371.6 415.6 L366.4 406.4 L368.4 402 L364 394 L358 387 L350 385 L345 383.6 L340.4 385 M592 168 L604 168.4 L610 172 L620 172.4 L624 174.4 L628 179.6 L641 182 L644 184.4 L655 189.6 L658 188 L666 195 L672 196.4 L678 195 L682 197 L688 203 L696 202 L701 202.4 L706 201 L712 204.4 L719 209 L721.6 207 L721.6 199 L725.6 194.4 L730 196.4 L738 203 L745.6 210 L746.4 212.4 L754 222 L759 229 L758.4 234 L761.6 242 L762.4 248 L761.6 256 L763 264 L766 268 L767.6 276 L766 284 L765 290 L763 294 L764.4 300 L770 306 L773 313 L778 314.4 L782 318 L786 324 L787 329.6 M786 459.4 L777 455 L767 454.4 L763 449 L760.4 442 L760 432 L758 416 L756.4 402 L753 390 L749 378 L747 369 L750 362 L756 353 L762.4 343 L764.4 336 L764 330.4 L766 329.6 L787 329.6 L816 330 L823 331.6 L830 330 L835 324 L842 320 L851 321.6 L853 325 L860 327 L865 331 L866.4 337 L872 338.4 L879 337 L886 337 L889.6 339.6 L898 338.4 L903 335 L907 330.4 L910 330 M655 189.6 L654.4 194 L657.6 197 L658 203 L663 205 L666 202 L671 202.4 L673.6 208 L682 216.4 L683 220 L679.6 229 L680 233 L688 237.6 L694 242.4 L694.4 249 L698 256 L703 262.4 L702.4 266 L696 271 L691 278.4 L684 280 L678 281.6 L674.4 285.6 L677.6 288 L679 295 L685 303 L681 310 L677 317 L674.4 320 L675 324 L673 329 L678.4 330.4 L679.6 340 L679 350 L678 358 L676 364 L677 368 L680 372 L682.4 378 L689 378.4 L694 380.4 L689 386 L684 391.6 L677 392 L671 397.6 L668 395 L663 395.6 L659 401 L656 406 L656.4 412 L660.4 416 L658.4 424 L657.6 431 L659.6 436 L655 439 L651 450 L647 456 L638 459.4 M760 357 L762.4 355.6 L765 358 L765.6 361.6 L763 362.4 L760.6 360Z M767 359 L771 357.6 L773.6 360 L773 364.4 L769 365.6 L766.4 362.4Z M830 331 L833 327 L835 324 L839 323 L843 319.6 L851 321.6 L852.4 325 L860 327.6 L865.6 331 L866.4 337.6 L872 338.4 L878 337 L886 337.2 L890 340 L897 339 L902 336 L907 330 L914 331 L921 330 L925 334.4 L930 337 L939 337.6 L948 339.6 L952 336 L960 334 L971.6 328 L972.4 322 L975.6 313.6 L980 311 L990 309 L994 310.4 L1000 310.4 L1007 316 L1015 319 L1027 310.4 L1033 309 L1043 303 L1052 303 L1057 302 M660 492.4 L630 502.4 L604 510 L596 513 L572 521 L560 526.4 L550 529.6 L532 533.6 L518 537 L498 543.6 L486 549.6 L479 550.4 L479.6 557 L481 564 L483 569.6 L488 573 L489.4 578 L489.6 582.4 L491 584 L489.4 588 L491.6 592 L490.6 594 L491 617 L522 617 L525 618.4 L528.4 621 L532 618 L538 616.4 L544 617.2 L549 619 L552 623 L555 626.4 L564 629.6 L575 630 L582 636 L587 640 L588.4 644.4 L596 645.6 L608 645.2 L614 646.4 L624 650.4 L638 656 L640.4 661.6 L646 662.4 L653 662.4 L657 661 L656.4 666 L654 672 L648.4 678 L654 688 L657 695 L658.4 702 L660 704 M490.6 594 L486 593.6 L482 593 L479 594.4 L474 593 L466 594 L460 593 L454 592 L442 595 L438 594.4 L434 597.6 L427 598.4 L420 601 L412 604.4 L407 608.4 L403 613 L397 614 L393 617 L391 621 L392 625 L390.4 632 L391 640 L389 647 L383 653 L378 653.6 L366 658 L354 662.4 L348 666 L341 672 M638 460 L639.6 463.6 L644.4 465 L647 468.4 L644 472 L651 475.6 L655.6 481 L658 485 L659 490 L662 486.4 L669 483 L672.4 488 L678 492.4 L679 497 L684 504 L690 513 L697 519 L700 522.4 L701.6 526.4 L703.6 525 L704 520 L706.4 519 L711 521.6 L718 519 L728 519 L730 516 L738 515 L747 512.4 L750 515.6 L754 521 L758 525.6 L757.6 532 L759.6 540 L761 550 L760 558 L761 570 L757 576 L751.6 583 L751.6 592 L746 599.6 L741 603 L739.6 608 L741.6 612 L747 617 L751 621.6 L750 628 L752.4 633.6 L758 637 L764 645 L772 652 L780 660 L786 666 L791 669.6 L796 670 L797.6 674 L796.4 679.6 L792 683 L793.6 689 L800 690.4 L808 690 L809.6 686 L808.4 681 L809.6 672 L808 668 L807 661 L802 657 L798 651.6 L803.6 647.6 L805.6 641 L806 634 L810 629 L816 625 L819 625.6 L822 627.6 L825 626 L834 623.6 L840 619.6 L841 615 L842.4 598 L843.6 578 L840 564 L843 556 L847 547 L845 544 L845 530 L838 522 L823 504 L818 495 L810 486 L795 468 L786 460 L778 455 L767 454.4 L763 450 L760 444 L760 440 M672.4 488 L660 491.6 M659 704 L661 705 L656 715 L661 720 L660 728 L656 736 L655.6 740 M1142.6 590 L1139 596 L1130 605 L1121 613 L1122 617 L1118 616.4 L1119 621 L1115 627 L1110 633.6 L1109 641 L1106 644 L1096 646.4 L1092 652 L1085 656 L1075 661 L1062 668 L1057 673 L1056 679 L1054 681 L1048 681.6 L1040 685 L1030 686 L1027 683.6 L1025 686.4 L1017 689 L1006 693 L996 697 L993 700 L990 694 L991 701 L984 703 L977 704.4 L971 707.6 L966 711 L957 716 L948 721 L939 726.4 L931 730 L930 733 L924 739 M1110 633.6 L1103 633.6 L1099 637 L1101 642 L1106 644 M341 979 L354 979.6 L365 983.6 L373 982 L382 986 L392 990 L400 991 L404 993.6 L401.6 999 L402 1005 L407 1009.6 L416 1010.4 L419 1014 L422 1017 L428 1016 L436 1014.4 L448 1014 L456 1017 L466 1019.4 M654 880 L650 890 L644 902 L637 912 L628 912.4 L625.6 917 L626 928 L627.6 936 L623 943 L617.6 949.6 L620 953 L623.6 960 L562 1020 M661 720 L659.6 728 L656.4 735 L656 746 L657.6 755 L659.6 765 L662 769 L659 775 L652 780 L653.6 788 L650 797 L640 800 L639 808 L641.6 812.4 L648 812 L650.4 818 L649 828 L645 835 L645.6 841 L648 848 L648 855 L653.6 856.4 L657 854.4 L658.4 860 L661 862.4 L660 872 L659 878 L655 880 M795 858 L786 865 L780 867 L777 862 L773 860 L768 855 L765 850 L760 849 L759 852 L763 851 L767 856 L770 860 L774 864 L773 870 L774.4 880 L772 886 L767 887 L772 889 L770 896 L767 902 L770 906 L768 911 L775 915 L781 920 L788 925 L790 932 L795 937 L793 942 L790 947 L793 953 L797 952 L795 962 M960 715 L955 717 L947 721.5 L942 724.5 L937 726 L933 730 L930.5 730.5 L929 733.5 L924 738 L921 743 L918.5 747 L916.5 745 L914 740 L911 738 L907.5 739.5 L910 740 L912 742.5 L911.5 746 L914.5 748 L917.5 749.5 L915 754.5 L912 758.5 L907 759 L905.5 761 L908 762 L903 766.5 L898 771.5 L894 775.5 L890 778 L888 780.5 L885 782 L883 787 L881 791.5 L879 792 L880 795 L881 797.5 L878 798.5 L874 796.5 L871.5 792 L869.5 792 L871 798 L872 803 L868.5 804 L864 805 L862.5 802 L862.5 798.5 L859.5 800 L855 805 L851.5 804.5 L848.5 808 L845 808.5 L842 811 L837 814 L832.5 819 L832 822.5 L828 825 L826 828.5 L822 832.5 L818 839 L812 845 L804 851 L798 856 L795 857 M401 1000 L402 1006 L407 1009.6 L416 1010.4 L419 1014 L422 1017 L428 1016 L436 1014.4 L448 1014 L456 1017 L466 1021 L474 1025 L480 1025 L487 1028 L496 1026 L506 1026.4 L519 1024.4 L530 1025.6 L538 1027 L543 1028 L548 1030.4 L555 1026 L584 1000 M548 1030.4 L550 1038 L565 1081 L564 1098 L566 1103 L573 1110 L578 1124 L585 1131 L586 1142 L593 1158 L594.4 1170 L594.4 1200 L594 1220 L593.6 1236 L594.4 1241 L590 1248 L588.4 1254 L590 1260 L594.4 1265 L599 1266 L600 1274 L598 1284 L599 1292 L602 1300 M422 1017 L414 1018 L403 1020 L399 1025 L398 1031 L394 1035 L388 1037 L378 1041 L368 1043 L360 1044 L352 1047 L347 1052 L346 1056 L341 1059.6 M810 1000 L811 1012 L809.6 1022 L810 1033 L815 1037 L817 1032 L815 1022 L817 1014 L820 1011.6 L823 1015 L824.4 1026 L823 1036 L822 1052 L823 1062 L828 1065 L827 1069 L824 1076 L821 1082 L820 1090 L817 1098 L815 1108 L814 1115 L812 1116 L813 1122 L815 1128 L811 1132 L813 1127 L817 1126 L819 1122 L823 1122 L824 1128 L822 1138 L819 1145 L814 1154 L808 1162 L802 1168 L799 1172.4 L792 1176 L780 1181 L768 1187 L756 1190 L740 1196 L724 1201 L708 1207 L692 1213.6 L682 1217 L674 1220 L664 1227 M590 1262.4 L584 1263 L572 1256 L560 1249 L554 1247.6 L548 1250 L538 1258 L534 1266 L530 1274 L522 1284 L517 1290 L515.6 1298 L516 1308 L517.6 1317 L522 1316 L527 1322 L527 1328 L532 1335 L539 1342 L550 1346 L562 1349.6 L578 1350 L592 1350 L591 1340 L593 1326 L594.4 1318.4 L602 1319 L602 1298 M602 1319 L618 1320.4 L634 1320 L652 1319.6 M651 1328 L648 1340 L642 1354 L637 1368 L634 1380 L633 1391 M794 960 L796 962 L797.5 967 L801 973 L805 979 L807 983 L806.5 990 L809 998 L810.5 1007 L810 1016 L809 1024 L809 1031 L812 1034 L814.5 1037 L816 1034.5 L815 1030 L814 1025 L815.5 1019 L817 1015 L819 1012 L821 1011.5 L822.5 1014 L822.5 1019 L822 1024 L823.5 1021 L824.5 1017 L825.5 1019 L824.5 1025 L825 1030 L822.5 1036 L821.5 1043 L821 1050 L822.5 1056 L823.5 1063 L824.5 1065.5 L828 1064.5 L828.5 1066.5 L826 1069 L824 1074 L820 1081 L819.5 1085 L821 1088 L819 1094 L817 1100 L816 1105 L815.5 1110 M817 991 L817.5 985 L819 978 L820.5 975 L821.8 976 L821.2 983 L819.5 991 L818 992.2Z M664 1227 L658.7 1230.3 L651.3 1234.7 L646.9 1239.1 L644.4 1243.5 L643.3 1247.9 L642.2 1250.8 L643.6 1252.3 L643.3 1254.1 L641.4 1252.3 L640 1253.7 L640.3 1256.7 L638.1 1258.9 L635.2 1261.4 L633 1263.3 L630.8 1262.9 L628.6 1261.8 L626.4 1262.5 L625.3 1264.4 L626.4 1266.2 L628.2 1265.1 L629.3 1263.6 L631.5 1265.5 L634.1 1266.9 L635.9 1270.6 L637.4 1271.3 L638.5 1275.7 L639.2 1277.2 L641.1 1276.5 L644 1277.9 L646.2 1280.9 L648.4 1283.8 L650.6 1284.1 L652.4 1283 L651.3 1280.1 L651.7 1276.5 L652.8 1272.1 L655 1270.6 L657.2 1270.6 L656.5 1275.7 L655.4 1282.3 L655 1289.6 L655 1297 L654.3 1302.1 L652.8 1307.2 L653.2 1311.6 L652.4 1316.8 L651.3 1320.1 L651.7 1324.1 L650.6 1330 M652.4 1266.9 L653.5 1264.7 L656.5 1263.3 L658.7 1262.5 L659 1264 L657.6 1267.7 L655.7 1268.4 L652.8 1268.4Z M1080.5 168.5 L1080 171 L1082.5 170.5 L1084.5 169 L1087 171 L1089.5 174 L1091 177.5 L1090 181 L1091 184 L1090 188 L1087 189 L1085 189.5 L1084.8 192 L1087 192.5 L1089.5 191 L1091.5 193.5 L1093.5 197 L1094.5 201 L1096 205 L1097 209 L1094.5 210 L1093.5 211.5 L1096 211.5 L1098.5 213.5 L1100.5 216 L1101.2 219 L1099.5 221.5 L1097.5 220 L1098.5 223.5 L1095 225 L1094.5 227 L1096.5 226.5 L1095.5 229 L1093.5 231 L1095 230.5 L1097.5 227 L1101 226.5 L1105 228 L1108 230.5 L1110.5 234.5 L1112 238 L1112 242 L1113 242.5 L1113.5 236.5 L1117 237.5 L1121 238.5 L1122.5 240.5 L1121.5 243.5 L1121 245.5 L1124 246 L1126 244 L1128 241 L1129.5 241.5 L1130 245 L1128 247 L1130 246 L1132 244 L1134 247 L1136 250.5 L1139 251 L1138.5 248.5 L1140 247 L1142 248.5 L1142 252 L1140.5 254 L1141 258 L1142 259.5 L1145 260 L1147.5 259 L1148 262 L1146.5 264.5 L1149 266 L1150.5 269 L1152 271 L1156 272 L1153.5 273 L1150 274 L1146 276 L1144.5 278.5 L1147 279.5 L1151 280.5 L1154 282.5 L1151.5 284.5 L1148 286 L1146 289 L1145.5 293 L1147 294.5 L1149.5 293 L1150.5 295 L1149 299 L1146.5 302 L1146 305 L1143 308 L1140 309.7 M1057 302.5 L1060 303.5 L1062 304.5 L1066 303.5 L1074 297 L1081 291.5 L1090 290.5 L1098 289 L1106 284 L1113 281 L1119 276.5 L1124 273 L1128 268 L1132 265 L1136 263.5 L1139 261.5 L1141 259 M1140 309.7 L1138.5 313 L1136 313.5 L1137.5 316 L1141 317 L1144 318 L1144 322 L1142.5 326 L1140.5 329.5 L1143 332 L1141 334.5 L1142 339 L1144 342 L1145 346.5 L1147.5 347 L1145.5 349 L1145 352 L1147 355.5 L1148.5 357.8 L1146.5 361 L1145.5 366 L1148 369.5 L1147.5 372 L1145 373.5 L1142.5 374.5 L1146 375.5 L1147.5 380 L1147 382.5 L1150 383 L1148 385 L1145.5 387 L1143.8 390 L1147 391.2 L1150 391.5 L1150.5 396 L1150 399 L1153.5 399.5 L1150.5 401 L1153.5 403 L1156 407 L1154 409.5 L1150 408.5 L1148 410.5 L1149 413 L1148 416.5 L1145 414.5 L1142 415.5 L1139.8 418.5 L1141 421.5 L1144 424 L1146.2 422.5 L1145.5 419.5 L1147 418.5 L1152 419.5 L1151.5 423 L1150 426 L1150 430 L1151.2 434 L1150.5 438 L1148 441.5 L1150.5 443 L1151 446.5 L1149 449.7 M1149 449.7 L1148.5 453 L1147 455.5 L1149.5 457.5 L1152.5 459 L1150.5 461.5 L1148 464 L1149 468 L1150.5 473 L1152 479 L1154.5 482 L1155.8 486 L1155.5 490 L1153 492 L1151.5 492.5 L1153.5 494.5 L1150.5 496 L1148 498 L1149 501.5 L1151.5 503.5 L1153.5 502 L1155 499.5 L1157.5 498.5 L1160 499.5 L1161 503 L1161.5 506 L1159.5 509 L1156 509.5 L1154 510 L1155.5 512 L1154.5 516 L1153.5 520 L1154 524 L1155.5 521.5 L1157 517 L1159 514.5 L1162.5 513 L1166 514 L1168 517 L1167.5 520 L1164.5 520.5 L1163 521.5 L1166 522 L1166 526 L1168 529 L1168.5 534 L1168 538.5 L1165 540 L1162 542 L1158.5 545 L1156 544.5 L1154.5 542.5 L1155.5 546 L1157.5 548 L1161 547 L1163 549 L1163.5 551.5 L1160 550.5 L1157.5 552 L1158.5 555 L1160 556.5 L1156.5 556 L1154 558 L1150 559 L1147 560 L1146.5 564 L1150 565 L1152 563 L1155 563 L1157.5 566 L1157.5 570 L1155.5 573 L1153.5 576 L1152 578 L1150.5 582 L1148.5 585 L1145.5 586.5 L1143.5 589 L1142.5 590" stroke="#000" stroke-width="1.9" fill="none" stroke-linejoin="round" stroke-linecap="round"/>
<ellipse cx="1291.0" cy="685.7" rx="1.8" ry="0.9" fill="#000"/>
<ellipse cx="907.2" cy="759.5" rx="2.2" ry="2.0" fill="#000"/>
<ellipse cx="1136.4" cy="1027.6" rx="2.8" ry="2.8" fill="#000"/>
<ellipse cx="626.8" cy="1264.3" rx="1.5" ry="1.9" fill="#000"/>
<ellipse cx="1137.5" cy="313.8" rx="1.5" ry="1.2" fill="#000"/>
<ellipse cx="1151.5" cy="503.0" rx="1.5" ry="1.5" fill="#000"/>
<ellipse cx="1164.0" cy="521.0" rx="1.5" ry="1.5" fill="#000"/>
<ellipse cx="1094.1" cy="970.1" rx="0.9" ry="0.7" fill="#000"/>
<ellipse cx="1096.2" cy="968.2" rx="0.8" ry="0.6" fill="#000"/>
<ellipse cx="1290.6" cy="685.3" rx="2.0" ry="1.1" fill="#000"/>
</g>
<rect x="340.5" y="166.4" width="963.9000000000001" height="1225.6" fill="none" stroke="#000" stroke-width="2.8"/>
<rect x="1379.3" y="1294.67" width="61.40000000000009" height="97.83" fill="#5c51a3"/>
<rect x="1379.3" y="1197.33" width="61.40000000000009" height="97.83" fill="#555aa7"/>
<rect x="1379.3" y="1100.00" width="61.40000000000009" height="97.83" fill="#496aaf"/>
<rect x="1379.3" y="1002.67" width="61.40000000000009" height="97.83" fill="#3682ba"/>
<rect x="1379.3" y="905.33" width="61.40000000000009" height="97.83" fill="#4199b6"/>
<rect x="1379.3" y="808.00" width="61.40000000000009" height="97.83" fill="#56b0ad"/>
<rect x="1379.3" y="710.67" width="61.40000000000009" height="97.83" fill="#84cea5"/>
<rect x="1379.3" y="613.33" width="61.40000000000009" height="97.83" fill="#c3e79f"/>
<rect x="1379.3" y="516.00" width="61.40000000000009" height="97.83" fill="#f1f9a9"/>
<rect x="1379.3" y="418.67" width="61.40000000000009" height="97.83" fill="#fff1a8"/>
<rect x="1379.3" y="321.33" width="61.40000000000009" height="97.83" fill="#fdaf62"/>
<rect x="1379.3" y="224.00" width="61.40000000000009" height="97.83" fill="#d43d4f"/>
<path d="M1379.3 224.0 L1410.0 165.5 L1440.7 224.0Z" fill="#9e0142"/>
<path d="M1379.3 1392.0 L1379.3 224.0 L1410.0 165.5 L1440.7 224.0 L1440.7 1392.0Z" fill="none" stroke="#000" stroke-width="2.8" stroke-linejoin="miter"/>
<path d="M1440.7 1392.0h15.8M1440.7 1197.3h15.8M1440.7 1002.7h15.8M1440.7 808.0h15.8M1440.7 613.3h15.8M1440.7 418.7h15.8M1440.7 224.0h15.8" stroke="#000" stroke-width="2.8" fill="none"/>
<rect x="822.4" y="92.6" width="30.1" height="2.4" fill="#000"/>
<rect x="1273.9" y="92.6" width="30.1" height="2.4" fill="#000"/>
<text x="250.5" y="82.4" font-size="54" text-anchor="start" stroke="#000" stroke-width="0.45" font-family="Liberation Mono, monospace" textLength="1113.7" lengthAdjust="spacingAndGlyphs">Acc.RF(mm) 20251020 00 to 20251021 00</text>
<rect x="1153.3" y="150.6" width="30.1" height="2.4" fill="#000"/>
<text x="400.8" y="140.4" font-size="54" text-anchor="start" stroke="#000" stroke-width="0.45" font-family="Liberation Mono, monospace" textLength="842.8" lengthAdjust="spacingAndGlyphs">Simulation Time: 20251019 12</text>
<text x="221.9" y="241.2" font-size="45.5" text-anchor="start" stroke="#000" stroke-width="0.45" font-family="Liberation Mono, monospace" textLength="98.1" lengthAdjust="spacingAndGlyphs">10°S</text>
<text x="172.5" y="403.1" font-size="45.5" text-anchor="start" stroke="#000" stroke-width="0.45" font-family="Liberation Mono, monospace" textLength="147.2" lengthAdjust="spacingAndGlyphs">12.5°S</text>
<text x="221.9" y="565.1" font-size="45.5" text-anchor="start" stroke="#000" stroke-width="0.45" font-family="Liberation Mono, monospace" textLength="98.1" lengthAdjust="spacingAndGlyphs">15°S</text>
<text x="172.5" y="727.0" font-size="45.5" text-anchor="start" stroke="#000" stroke-width="0.45" font-family="Liberation Mono, monospace" textLength="147.2" lengthAdjust="spacingAndGlyphs">17.5°S</text>
<text x="221.9" y="888.9" font-size="45.5" text-anchor="start" stroke="#000" stroke-width="0.45" font-family="Liberation Mono, monospace" textLength="98.1" lengthAdjust="spacingAndGlyphs">20°S</text>
<text x="172.5" y="1050.9" font-size="45.5" text-anchor="start" stroke="#000" stroke-width="0.45" font-family="Liberation Mono, monospace" textLength="147.2" lengthAdjust="spacingAndGlyphs">22.5°S</text>
<text x="221.9" y="1212.8" font-size="45.5" text-anchor="start" stroke="#000" stroke-width="0.45" font-family="Liberation Mono, monospace" textLength="98.1" lengthAdjust="spacingAndGlyphs">25°S</text>
<text x="172.5" y="1374.7" font-size="45.5" text-anchor="start" stroke="#000" stroke-width="0.45" font-family="Liberation Mono, monospace" textLength="147.2" lengthAdjust="spacingAndGlyphs">27.5°S</text>
<text x="416.0" y="1445.6" font-size="45.5" text-anchor="start" stroke="#000" stroke-width="0.45" font-family="Liberation Mono, monospace" textLength="98.8" lengthAdjust="spacingAndGlyphs">30°E</text>
<text x="545.5" y="1445.6" font-size="45.5" text-anchor="start" stroke="#000" stroke-width="0.45" font-family="Liberation Mono, monospace" textLength="98.8" lengthAdjust="spacingAndGlyphs">32°E</text>
<text x="675.0" y="1445.6" font-size="45.5" text-anchor="start" stroke="#000" stroke-width="0.45" font-family="Liberation Mono, monospace" textLength="98.8" lengthAdjust="spacingAndGlyphs">34°E</text>
<text x="804.5" y="1445.6" font-size="45.5" text-anchor="start" stroke="#000" stroke-width="0.45" font-family="Liberation Mono, monospace" textLength="98.8" lengthAdjust="spacingAndGlyphs">36°E</text>
<text x="933.9" y="1445.6" font-size="45.5" text-anchor="start" stroke="#000" stroke-width="0.45" font-family="Liberation Mono, monospace" textLength="98.8" lengthAdjust="spacingAndGlyphs">38°E</text>
<text x="1063.4" y="1445.6" font-size="45.5" text-anchor="start" stroke="#000" stroke-width="0.45" font-family="Liberation Mono, monospace" textLength="98.8" lengthAdjust="spacingAndGlyphs">40°E</text>
<text x="1192.9" y="1445.6" font-size="45.5" text-anchor="start" stroke="#000" stroke-width="0.45" font-family="Liberation Mono, monospace" textLength="98.8" lengthAdjust="spacingAndGlyphs">42°E</text>
<text x="1470.6" y="1407.8" font-size="45.5" text-anchor="start" stroke="#000" stroke-width="0.45" font-family="Liberation Mono, monospace" textLength="24.5" lengthAdjust="spacingAndGlyphs">5</text>
<text x="1470.6" y="1213.1" font-size="45.5" text-anchor="start" stroke="#000" stroke-width="0.45" font-family="Liberation Mono, monospace" textLength="48.9" lengthAdjust="spacingAndGlyphs">20</text>
<text x="1470.6" y="1018.5" font-size="45.5" text-anchor="start" stroke="#000" stroke-width="0.45" font-family="Liberation Mono, monospace" textLength="48.9" lengthAdjust="spacingAndGlyphs">60</text>
<text x="1470.6" y="823.8" font-size="45.5" text-anchor="start" stroke="#000" stroke-width="0.45" font-family="Liberation Mono, monospace" textLength="73.3" lengthAdjust="spacingAndGlyphs">100</text>
<text x="1470.6" y="629.1" font-size="45.5" text-anchor="start" stroke="#000" stroke-width="0.45" font-family="Liberation Mono, monospace" textLength="73.3" lengthAdjust="spacingAndGlyphs">200</text>
<text x="1470.6" y="434.5" font-size="45.5" text-anchor="start" stroke="#000" stroke-width="0.45" font-family="Liberation Mono, monospace" textLength="73.3" lengthAdjust="spacingAndGlyphs">300</text>
<text x="1470.6" y="239.8" font-size="45.5" text-anchor="start" stroke="#000" stroke-width="0.45" font-family="Liberation Mono, monospace" textLength="73.3" lengthAdjust="spacingAndGlyphs">500</text>
</svg></body></html>
